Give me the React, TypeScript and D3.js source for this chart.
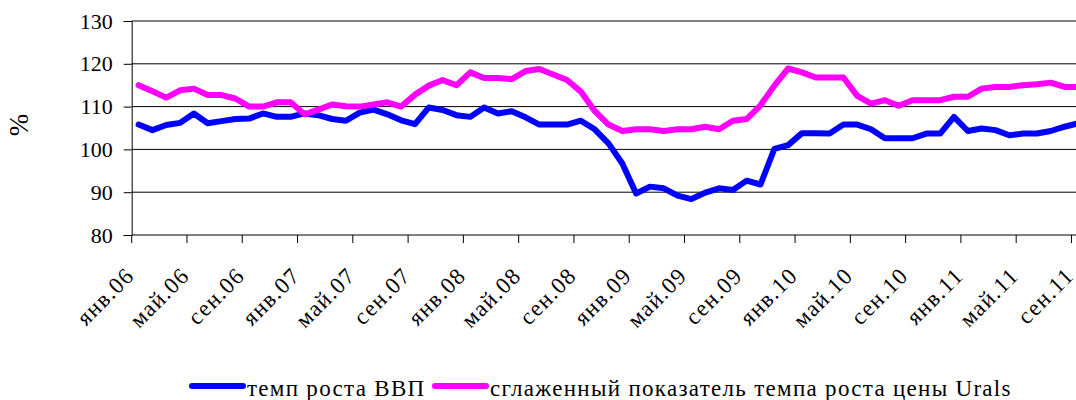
import { useEffect, useRef } from "react";
import * as d3 from "d3";

// monthly categories, янв.06 .. сен.11
const monthNames = ["янв", "фев", "мар", "апр", "май", "июн", "июл", "авг", "сен", "окт", "ноя", "дек"];
const years = ["06", "07", "08", "09", "10", "11"];
const categories: string[] = [];
years.forEach((yy) => monthNames.forEach((m) => categories.push(`${m}.${yy}`)));
categories.splice(69);

// темп роста ВВП, %
const gdp = [
  105.8, 104.5, 105.7, 106.2, 108.4, 106.1, 106.6, 107.1, 107.2, 108.4, 107.6, 107.6,
  108.4, 108.0, 107.1, 106.7, 108.6, 109.3, 108.2, 106.8, 105.9, 109.8, 109.2, 108.0,
  107.6, 109.8, 108.4, 108.9, 107.5, 105.8, 105.8, 105.8, 106.7, 104.7, 101.4, 96.7,
  89.7, 91.3, 90.9, 89.2, 88.4, 89.9, 90.9, 90.5, 92.7, 91.8, 100.1, 101.0,
  103.8, 103.8, 103.7, 105.8, 105.8, 104.7, 102.6, 102.6, 102.6, 103.7, 103.7, 107.6,
  104.3, 104.9, 104.5, 103.3, 103.7, 103.7, 104.3, 105.3, 106.1,
];

// сглаженный показатель темпа роста цены Urals, %
const urals = [
  115.0, 113.6, 112.1, 113.8, 114.2, 112.7, 112.7, 111.9, 110.0, 110.0, 111.0, 111.0,
  108.2, 109.3, 110.5, 110.1, 110.0, 110.5, 111.0, 110.0, 112.8, 114.9, 116.2, 115.0,
  118.0, 116.7, 116.7, 116.4, 118.3, 118.8, 117.5, 116.2, 113.5, 109.0, 105.8, 104.3,
  104.7, 104.7, 104.3, 104.7, 104.7, 105.3, 104.7, 106.7, 107.1, 110.3, 114.9, 118.9,
  118.0, 116.8, 116.8, 116.8, 112.5, 110.7, 111.5, 110.2, 111.5, 111.5, 111.5, 112.3,
  112.3, 114.2, 114.6, 114.6, 115.0, 115.2, 115.6, 114.6, 114.6,
];

const yTicks = [80, 90, 100, 110, 120, 130];

const series = [
  { name: "темп роста ВВП", values: gdp, color: "#0000ff" },
  { name: "сглаженный показатель темпа роста цены Urals", values: urals, color: "#ff00ff" },
];

const FONT = "Liberation Serif, Times New Roman, serif";

export default function App() {
  const ref = useRef<SVGSVGElement>(null);

  useEffect(() => {
    const width = 1076;
    const left = 131.7;
    const step = 13.82;
    const top = 21;
    const bottom = 235;

    const svg = d3.select(ref.current);
    svg.selectAll("*").remove();

    const x = d3
      .scaleBand()
      .domain(categories)
      .range([left, left + step * categories.length]);
    const y = d3.scaleLinear().domain([80, 130]).range([bottom, top]);
    const cx = (c: string) => (x(c) as number) + x.bandwidth() / 2;

    // gridlines
    svg
      .append("g")
      .selectAll("line")
      .data(yTicks.slice(1))
      .join("line")
      .attr("x1", left)
      .attr("x2", width)
      .attr("y1", (d) => y(d))
      .attr("y2", (d) => y(d))
      .attr("stroke", "#000")
      .attr("stroke-width", 1);

    // y axis
    const yAxis = svg
      .append("g")
      .attr("transform", `translate(${left},0)`)
      .call(d3.axisLeft(y).tickValues(yTicks).tickSize(8).tickPadding(11).tickFormat(d3.format("d")));
    yAxis.attr("font-family", FONT).attr("font-size", 22);
    yAxis.select(".domain").attr("stroke", "#000");
    yAxis.selectAll(".tick line").attr("stroke", "#000");
    yAxis.selectAll("text").attr("fill", "#000");

    // x axis, ticks every 4 months at category boundaries
    const boundaries = categories.filter((_, i) => i % 4 === 0).map((c) => x(c) as number);
    svg
      .append("line")
      .attr("x1", left)
      .attr("x2", width)
      .attr("y1", bottom)
      .attr("y2", bottom)
      .attr("stroke", "#000");
    svg
      .append("g")
      .selectAll("line")
      .data(boundaries)
      .join("line")
      .attr("x1", (d) => d)
      .attr("x2", (d) => d)
      .attr("y1", bottom)
      .attr("y2", bottom + 8)
      .attr("stroke", "#000");

    svg
      .append("g")
      .attr("font-family", FONT)
      .attr("font-size", 23)
      .attr("letter-spacing", 1.3)
      .selectAll("text")
      .data(categories.filter((_, i) => i % 4 === 0))
      .join("text")
      .attr("text-anchor", "end")
      .attr("transform", (d) => `translate(${cx(d) - 3},${bottom + 42}) rotate(-45)`)
      .text((d) => d);

    // "%" axis title
    svg
      .append("text")
      .attr("transform", `translate(28,125) rotate(-90)`)
      .attr("text-anchor", "middle")
      .attr("font-family", FONT)
      .attr("font-size", 27)
      .text("%");

    // lines
    const line = d3
      .line<number>()
      .x((_, i) => cx(categories[i]))
      .y((d) => y(d));

    svg
      .append("g")
      .selectAll("path")
      .data(series)
      .join("path")
      .attr("fill", "none")
      .attr("stroke", (d) => d.color)
      .attr("stroke-width", 6)
      .attr("stroke-linejoin", "round")
      .attr("stroke-linecap", "round")
      .attr("d", (d) => line(d.values));

    // legend
    const legendPos = [192, 435];
    const lg = svg
      .append("g")
      .selectAll("g")
      .data(series)
      .join("g")
      .attr("transform", (_, i) => `translate(${legendPos[i]},386)`);
    lg.append("line")
      .attr("x1", 0)
      .attr("x2", 51)
      .attr("stroke", (d) => d.color)
      .attr("stroke-width", 6)
      .attr("stroke-linecap", "round");
    lg.append("text")
      .attr("x", 55)
      .attr("y", 10)
      .attr("font-family", FONT)
      .attr("font-size", 23)
      .attr("letter-spacing", 1.3)
      .text((d) => d.name);
  }, []);

  return (
    <svg
      ref={ref}
      width={1076}
      height={400}
      style={{ position: "absolute", left: 0, top: 0, background: "#fff" }}
    />
  );
}
